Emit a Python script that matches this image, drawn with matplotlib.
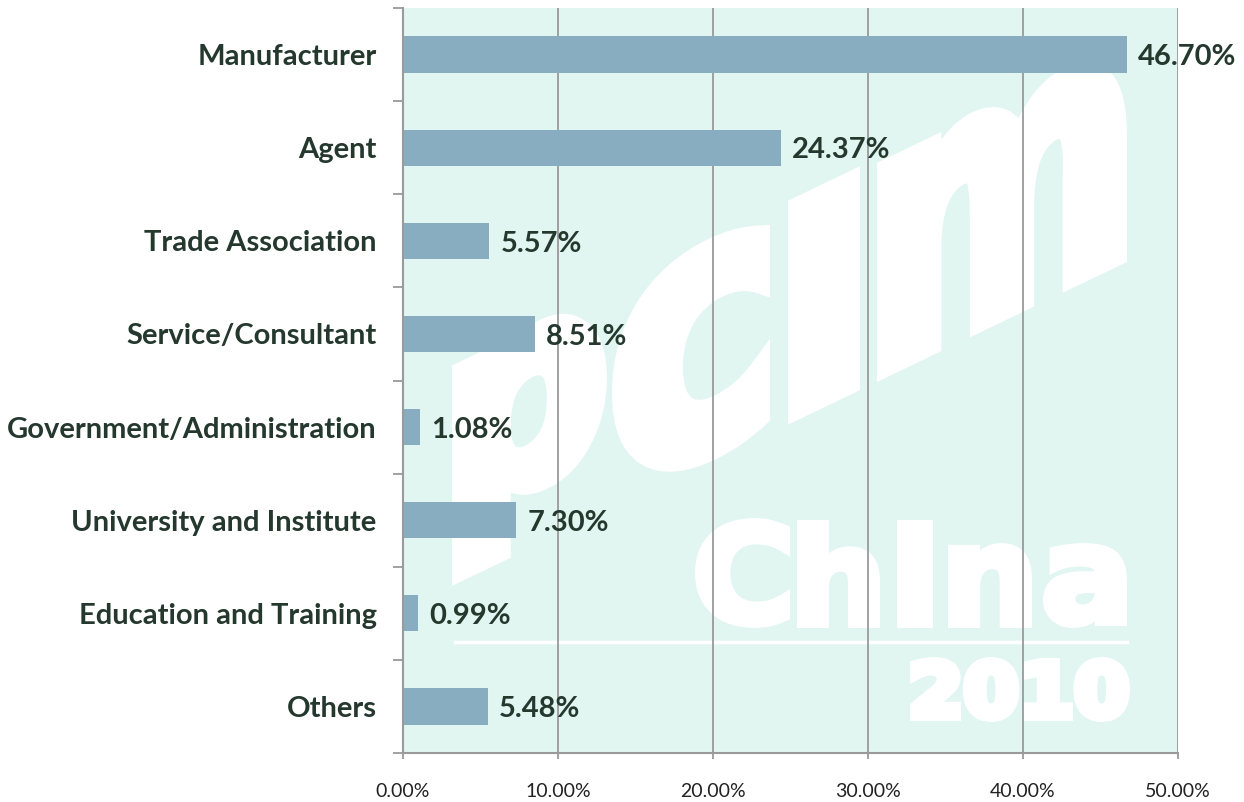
import numpy as np
import matplotlib
matplotlib.use("Agg")
import matplotlib.pyplot as plt
from matplotlib.textpath import TextPath
from matplotlib.font_manager import FontProperties
from matplotlib.patches import PathPatch
from matplotlib.path import Path
from matplotlib.transforms import IdentityTransform
from matplotlib.lines import Line2D

# data
categories = ["Manufacturer", "Agent", "Trade Association", "Service/Consultant",
              "Government/Administration", "University and Institute",
              "Education and Training", "Others"]
shares = [46.70, 24.37, 5.57, 8.51, 1.08, 7.30, 0.99, 5.48]
value_labels = ["46.70%", "24.37%", "5.57%", "8.51%", "1.08%", "7.30%", "0.99%", "5.48%"]
x_ticks = [0, 10, 20, 30, 40, 50]
x_tick_labels = ["0.00%", "10.00%", "20.00%", "30.00%", "40.00%", "50.00%"]

W, H = 1244, 802
fig = plt.figure(figsize=(W / 100, H / 100), dpi=100)
fig.patch.set_facecolor("white")
ax = fig.add_axes([403 / W, (H - 753) / H, (1178 - 403) / W, (753 - 8) / H])
ax.set_facecolor("#e1f5f1")

label_col = "#24382e"
grid_col = "#9a9a9a"

# watermark -------------------------------------------------------------
wm_font = FontProperties(family="DejaVu Sans", weight="bold")


def wm_glyph(s, x0, x1, ybot, ytop, lw_px, shear=0.0, sx0=0.0):
    # fit text path into pixel box (display coords, y up), optional vertical shear
    tp = TextPath((0, 0), s, size=1, prop=wm_font)
    bb = tp.get_extents()
    ins = lw_px / 2
    v = tp.vertices.copy()
    v[:, 0] = (v[:, 0] - bb.x0) / bb.width * (x1 - x0 - 2 * ins) + x0 + ins
    v[:, 1] = (v[:, 1] - bb.y0) / bb.height * (ytop - ybot - 2 * ins) + ybot + ins
    if shear:
        v[:, 1] = v[:, 1] + shear * (v[:, 0] - sx0)
    p = PathPatch(Path(v, tp.codes), facecolor="white", edgecolor="white",
                  lw=lw_px * 72 / 100, transform=IdentityTransform(),
                  zorder=0.3, clip_on=False)
    ax.add_patch(p)


slope = 0.48
base = H - 585
hgt = 222
for ch, xa, xb in [("p", 452, 607), ("c", 612, 770), ("\u0131", 788, 860), ("m", 877, 1127)]:
    wm_glyph(ch, xa, xb, base, base + hgt, 18, shear=slope, sx0=452)

for ch, xa, xb, top in [("C", 695, 790, 518), ("h", 797, 880, 520), ("\u0131", 897, 933, 520),
                        ("n", 948, 1032, 543), ("a", 1043, 1127, 543)]:
    wm_glyph(ch, xa, xb, H - 628, H - top, 8)
wm_glyph("2010", 910, 1130, H - 722, H - 657, 9)
ax.add_line(Line2D([455, 1127], [H - 642, H - 642], color="white", lw=2.5,
                   transform=IdentityTransform(), zorder=0.3, clip_on=False))

# bars ------------------------------------------------------------------
y = np.arange(len(categories))
ax.barh(y, shares, height=0.39, color="#89adc0", zorder=2)
for yi, v, lab in zip(y, shares, value_labels):
    ax.annotate(lab, (v, yi), xytext=(8, -2), textcoords="offset points",
                va="center", ha="left", fontsize=21, fontweight="bold",
                family="Lato", color=label_col, zorder=3)

ax.set_xlim(0, 50)
ax.set_ylim(len(categories) - 0.5, -0.5)
ax.set_xticks(x_ticks)
ax.set_xticklabels(x_tick_labels, family="Lato", fontsize=14, color="#222222")
ax.set_yticks(y)
ax.set_yticklabels(categories, family="Lato", fontsize=21, fontweight="bold", color=label_col)
ax.set_yticks(np.arange(len(categories) + 1) - 0.5, minor=True)

ax.tick_params(axis="y", which="major", length=0, pad=19)
ax.tick_params(axis="y", which="minor", length=7, width=1.3, color=grid_col)
ax.tick_params(axis="x", which="major", length=4.5, width=1.3, color=grid_col, pad=17)

ax.set_axisbelow(True)
ax.grid(axis="x", color=grid_col, lw=1.3)
for s in ["top", "right"]:
    ax.spines[s].set_visible(False)
for s in ["left", "bottom"]:
    ax.spines[s].set_color(grid_col)
    ax.spines[s].set_linewidth(1.5)

fig.savefig("out.png", dpi=100)
